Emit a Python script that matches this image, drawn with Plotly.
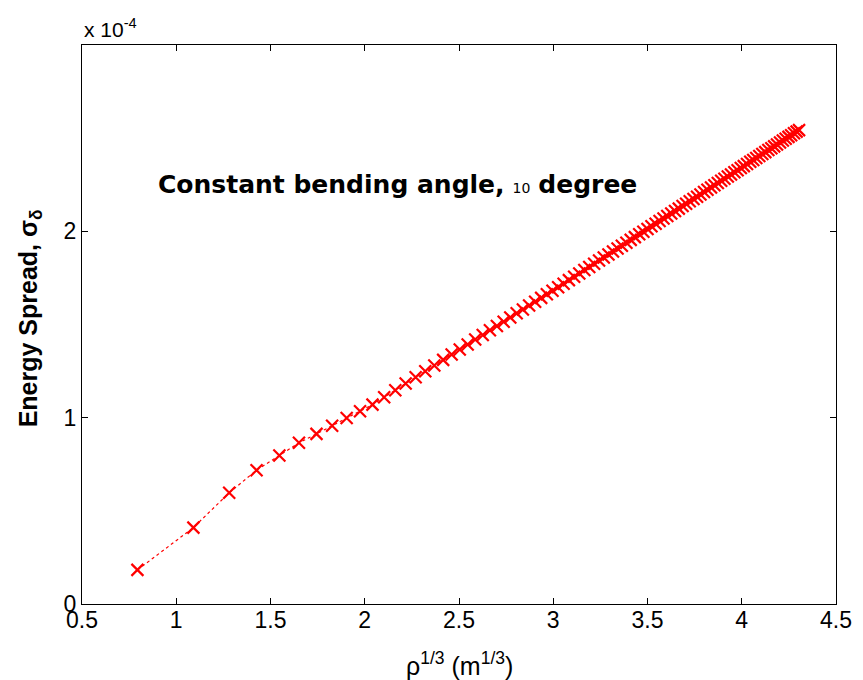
import plotly.graph_objects as go

# rho^(1/3) values (m^(1/3))
x_vals = [0.794, 1.091, 1.281, 1.426, 1.547, 1.651, 1.744, 1.827, 1.904, 1.975,
          2.041, 2.103, 2.162, 2.217, 2.270, 2.321, 2.369, 2.416, 2.461, 2.504,
          2.546, 2.586, 2.626, 2.664, 2.701, 2.737, 2.772, 2.806, 2.839, 2.872,
          2.904, 2.936, 2.966, 2.996, 3.026, 3.055, 3.083, 3.111, 3.138, 3.165,
          3.191, 3.217, 3.243, 3.268, 3.293, 3.317, 3.341, 3.364, 3.388, 3.411,
          3.433, 3.456, 3.478, 3.500, 3.521, 3.543, 3.564, 3.585, 3.605, 3.626,
          3.646, 3.666, 3.686, 3.705, 3.724, 3.744, 3.763, 3.781, 3.800, 3.818,
          3.837, 3.855, 3.873, 3.891, 3.908, 3.926, 3.943, 3.961, 3.978, 3.995,
          4.011, 4.028, 4.045, 4.061, 4.077, 4.093, 4.109, 4.125, 4.141, 4.157,
          4.172, 4.187, 4.203, 4.218, 4.233, 4.248, 4.262, 4.277, 4.291, 4.304]

# energy spread sigma_delta, in units of 1e-4
y_vals = [0.183, 0.410, 0.597, 0.718, 0.797, 0.865, 0.913, 0.957, 0.998, 1.034,
          1.070, 1.110, 1.147, 1.183, 1.217, 1.249, 1.280, 1.310, 1.339, 1.366,
          1.393, 1.419, 1.444, 1.469, 1.492, 1.515, 1.538, 1.560, 1.581, 1.602,
          1.622, 1.643, 1.662, 1.681, 1.700, 1.719, 1.738, 1.756, 1.774, 1.792,
          1.809, 1.826, 1.843, 1.860, 1.876, 1.892, 1.908, 1.923, 1.939, 1.954,
          1.969, 1.984, 1.998, 2.013, 2.027, 2.041, 2.055, 2.069, 2.082, 2.096,
          2.109, 2.122, 2.136, 2.148, 2.161, 2.174, 2.186, 2.198, 2.211, 2.223,
          2.235, 2.247, 2.259, 2.271, 2.282, 2.294, 2.305, 2.317, 2.328, 2.340,
          2.350, 2.361, 2.373, 2.383, 2.394, 2.404, 2.415, 2.425, 2.436, 2.446,
          2.456, 2.466, 2.477, 2.487, 2.497, 2.507, 2.516, 2.526, 2.535, 2.543]

x_ticks = [0.5, 1, 1.5, 2, 2.5, 3, 3.5, 4, 4.5]
x_tick_labels = ["0.5", "1", "1.5", "2", "2.5", "3", "3.5", "4", "4.5"]
y_ticks = [0, 1, 2]
y_tick_labels = ["0", "1", "2"]

FONT = "Liberation Sans, Arial, sans-serif"

fig = go.Figure()
fig.add_trace(go.Scatter(
    x=x_vals, y=y_vals, mode="lines+markers",
    line=dict(color="#ff0000", width=1.2, dash="dot"),
    marker=dict(symbol="x-thin-open", size=12, color="#ff0000",
                line=dict(color="#e00000", width=2.2)),
    showlegend=False,
))

font_ticks = dict(family=FONT, size=23, color="black")

fig.update_xaxes(
    range=[0.5, 4.5], tickvals=x_ticks, ticktext=x_tick_labels,
    ticks="inside", ticklen=6, tickwidth=1, tickcolor="black",
    showline=True, linecolor="black", linewidth=1.2, mirror="ticks",
    showgrid=False, zeroline=False, tickfont=font_ticks, automargin=False,
    ticklabelstandoff=-5,
)
fig.update_yaxes(
    range=[0, 3], tickvals=y_ticks, ticktext=y_tick_labels,
    ticks="inside", ticklen=6, tickwidth=1, tickcolor="black",
    showline=True, linecolor="black", linewidth=1.2, mirror="ticks",
    showgrid=False, zeroline=False, tickfont=font_ticks, automargin=False,
)

fig.add_annotation(
    xref="paper", yref="paper", x=0, y=1, yshift=2, xanchor="left", yanchor="bottom",
    text="x 10<sup>-4</sup>", showarrow=False,
    font=dict(family=FONT, size=21, color="black"),
)
fig.add_annotation(
    xref="paper", yref="paper", x=0.501, y=0, yshift=-42, xanchor="center", yanchor="top",
    text="ρ<sup>1/3</sup> (m<sup>1/3</sup>)", showarrow=False,
    font=dict(family=FONT, size=25, color="black"),
)
fig.add_annotation(
    xref="paper", yref="paper", x=0, xshift=-52, y=0.511, xanchor="center", yanchor="middle",
    textangle=-90, text="<b>Energy Spread, σ<sub>δ</sub></b>", showarrow=False,
    font=dict(family=FONT, size=25, color="black"),
)
fig.add_annotation(
    x=2.176, y=2.249, xref="x", yref="y", xanchor="center", yanchor="middle",
    text="<b>Constant bending angle,</b> <span style='font-size:14px'>10</span> <b>degree</b>",
    showarrow=False,
    font=dict(family="DejaVu Sans, sans-serif", size=25, color="black"),
)

fig.update_layout(
    width=855, height=672,
    margin=dict(l=74, r=27, t=37, b=76, autoexpand=False),
    paper_bgcolor="white", plot_bgcolor="white",
)

fig.write_html("out.html")
